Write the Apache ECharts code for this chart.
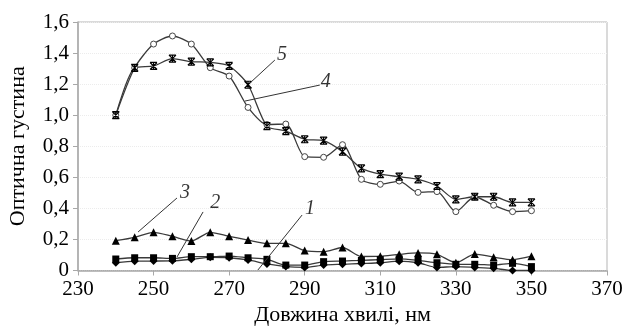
<!DOCTYPE html>
<html><head><meta charset="utf-8">
<script src="https://cdn.jsdelivr.net/npm/echarts@6/dist/echarts.min.js"></script>
<style>html,body{margin:0;padding:0;background:#fff}#c{width:627px;height:329px}</style>
</head><body><div id="c"></div>
<script>
const wavelengths = [240,245,250,255,260,265,270,275,280,285,290,295,300,305,310,315,320,325,330,335,340,345,350];
const s1 = [0.05,0.06,0.061,0.062,0.072,0.085,0.082,0.068,0.042,0.025,0.02,0.035,0.04,0.045,0.05,0.06,0.05,0.02,0.025,0.02,0.014,0.0,0.0];
const s2 = [0.074,0.082,0.082,0.078,0.089,0.089,0.093,0.082,0.072,0.035,0.035,0.057,0.061,0.065,0.07,0.075,0.065,0.05,0.04,0.04,0.035,0.046,0.025];
const s3 = [0.192,0.214,0.246,0.22,0.19,0.246,0.22,0.196,0.175,0.175,0.128,0.121,0.148,0.09,0.092,0.104,0.113,0.104,0.05,0.106,0.086,0.07,0.092];
const s4 = [1.0,1.305,1.458,1.51,1.458,1.306,1.252,1.05,0.94,0.943,0.733,0.729,0.81,0.587,0.555,0.576,0.503,0.508,0.379,0.475,0.42,0.379,0.385];
const s5 = [1.0,1.305,1.317,1.364,1.345,1.34,1.317,1.196,0.93,0.898,0.845,0.836,0.765,0.658,0.62,0.604,0.587,0.544,0.458,0.475,0.475,0.439,0.439];
const xTicks = [230,250,270,290,310,330,350,370];
const yTicks = [0,0.2,0.4,0.6,0.8,1.0,1.2,1.4,1.6];
const seriesLabels = ['1','2','3','4','5'];
const leaders = [
  {from:[289.3,0.357], to:[277.6,0.003], text:[291.4,0.40]},
  {from:[263.1,0.377], to:[256.2,0.087], text:[266.3,0.435]},
  {from:[256.2,0.467], to:[245.9,0.248], text:[258.3,0.50]},
  {from:[294.0,1.194], to:[274.2,1.091], text:[295.6,1.214]},
  {from:[282.1,1.355], to:[275.5,1.207], text:[284.0,1.39]}
];
const FONT = "'Liberation Serif','Times New Roman',serif";
const LINE = '#3a3a3a';
const starPath = 'path://M0,0L10,10M10,0L0,10M0,0L10,0M0,10L10,10M5,0L5,10';

function mk(vals){ return wavelengths.map((w,i)=>[w,vals[i]]); }
const base = {type:'line', smooth:0.25, lineStyle:{color:LINE,width:1.3}, z:3};
const series = [
  Object.assign({}, base, {name:'1', data:mk(s1), symbol:'diamond', symbolSize:8, itemStyle:{color:'#000'}}),
  Object.assign({}, base, {name:'2', data:mk(s2), symbol:'rect', symbolSize:7, itemStyle:{color:'#000'}}),
  Object.assign({}, base, {name:'3', data:mk(s3), symbol:'triangle', symbolSize:8, itemStyle:{color:'#000'}}),
  Object.assign({}, base, {name:'4', data:mk(s4), symbol:'circle', symbolSize:6, itemStyle:{color:'#fff', borderColor:'#444', borderWidth:1}}),
  Object.assign({}, base, {name:'5', data:mk(s5), symbol:starPath, symbolSize:7, itemStyle:{color:'#000', borderColor:'#000', borderWidth:1.2}})
];
series.push({
  type:'line', data:[], silent:true,
  markLine:{symbol:['none','none'], silent:true, animation:false,
    lineStyle:{color:'#333', width:1, type:'solid'}, label:{show:false},
    data: leaders.map(l=>[{coord:l.from},{coord:l.to}])}
});
series.push({
  type:'scatter', symbolSize:0, silent:true,
  data: leaders.map((l,i)=>({value:l.text, label:{formatter:seriesLabels[i]}})),
  label:{show:true, position:'inside', fontFamily:FONT, fontStyle:'italic', fontSize:20, color:'#000'}
});

const chart = echarts.init(document.getElementById('c'));
chart.setOption({
  animation:false,
  grid:{left:78, right:20, top:22, bottom:58.5, show:true, borderColor:'#b5b5b5', borderWidth:1,
    containLabel:false, outerBoundsMode:'none'},
  xAxis:{type:'value', min:230, max:370, interval:20,
    name:'Довжина хвилі, нм', nameLocation:'middle', nameGap:31,
    nameTextStyle:{fontFamily:FONT, fontSize:22, color:'#000'},
    axisLine:{lineStyle:{color:'#a8a8a8', width:1.5}},
    axisTick:{show:true, length:5, lineStyle:{color:'#a8a8a8'}},
    axisLabel:{fontFamily:FONT, fontSize:21, color:'#000', margin:8},
    splitLine:{show:false}},
  yAxis:{type:'value', min:0, max:1.6, interval:0.2,
    name:'Оптична густина', nameLocation:'middle', nameGap:49,
    nameTextStyle:{fontFamily:FONT, fontSize:22, color:'#000'},
    axisLine:{show:true, lineStyle:{color:'#a8a8a8', width:1.5}},
    axisTick:{show:true, length:5, lineStyle:{color:'#a8a8a8'}},
    axisLabel:{fontFamily:FONT, fontSize:21, color:'#000', margin:9,
      formatter:v=> v===0 ? '0' : v.toFixed(1).replace('.',',')},
    splitLine:{show:true, lineStyle:{color:'#ececec', type:'dotted'}}},
  series: series
});
</script></body></html>
